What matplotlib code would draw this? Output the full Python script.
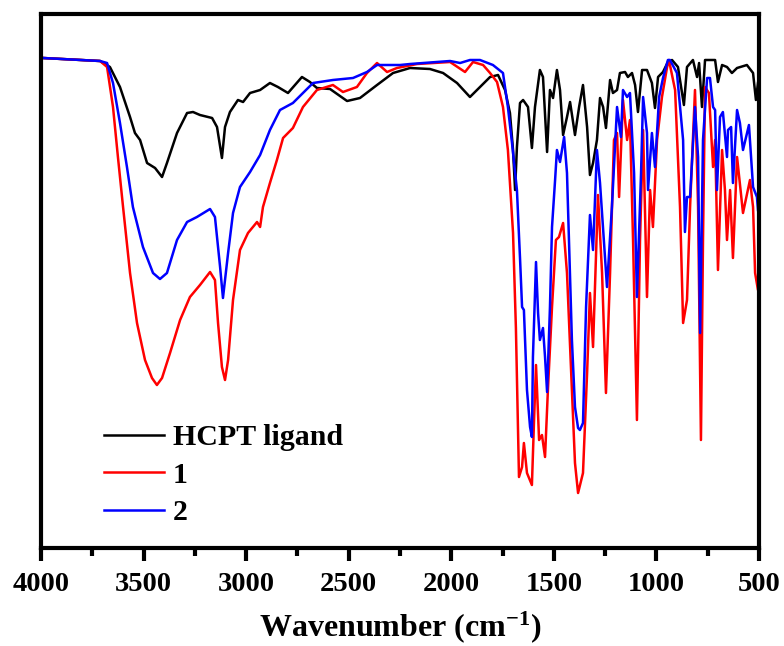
import matplotlib
matplotlib.use('Agg')
import matplotlib.pyplot as plt
from matplotlib.ticker import MultipleLocator

plt.rcParams['font.family'] = ['Liberation Serif', 'DejaVu Serif']
plt.rcParams['font.weight'] = 'bold'
plt.rcParams['mathtext.fontset'] = 'custom'
plt.rcParams['mathtext.rm'] = 'Liberation Serif:bold'
plt.rcParams['mathtext.bf'] = 'Liberation Serif:bold'
plt.rcParams['mathtext.default'] = 'bf'

# HCPT ligand
wn_ligand = [3990, 3712, 3664, 3615, 3566, 3542, 3517, 3483, 3444, 3410,
             3386, 3337, 3288, 3259, 3225, 3166, 3142, 3118, 3103, 3079,
             3040, 3015, 2981, 2932, 2884, 2845, 2796, 2728, 2689, 2655,
             2591, 2508, 2445, 2362, 2284, 2201, 2104, 2040, 1972, 1909,
             1860, 1811, 1772, 1738, 1714, 1699, 1689, 1680, 1665, 1650,
             1626, 1607, 1592, 1568, 1553, 1533, 1519, 1504, 1485, 1470,
             1455, 1436, 1421, 1397, 1377, 1358, 1338, 1324, 1309, 1290,
             1275, 1260, 1246, 1226, 1212, 1192, 1178, 1153, 1139, 1119,
             1104, 1090, 1070, 1046, 1022, 1007, 992, 968, 944, 924,
             895, 866, 851, 822, 802, 792, 778, 763, 714, 700,
             680, 656, 632, 607, 559, 529, 515, 505]
t_ligand = [490, 487, 481, 461, 431, 415, 408, 385, 380, 371,
            385, 415, 435, 436, 433, 430, 421, 390, 421, 436,
            448, 446, 455, 458, 465, 461, 455, 471, 466, 460,
            459, 447, 450, 463, 475, 480, 479, 475, 465, 451,
            461, 471, 473, 458, 435, 398, 358, 401, 445, 448,
            441, 400, 441, 478, 471, 396, 458, 450, 478, 458,
            413, 431, 446, 413, 441, 463, 421, 373, 385, 408,
            450, 441, 420, 468, 455, 458, 475, 476, 471, 475,
            463, 436, 478, 478, 465, 440, 471, 476, 486, 488,
            481, 443, 481, 488, 471, 485, 441, 488, 488, 466,
            483, 481, 475, 480, 483, 475, 448, 465]

# complex 1
wn_1 = [3990, 3712, 3678, 3649, 3625, 3600, 3566, 3532, 3493, 3459,
        3435, 3410, 3371, 3322, 3274, 3225, 3176, 3152, 3137, 3118,
        3103, 3088, 3064, 3030, 2991, 2947, 2932, 2918, 2884, 2850,
        2820, 2772, 2723, 2655, 2577, 2528, 2460, 2411, 2362, 2313,
        2265, 2167, 2006, 1933, 1894, 1845, 1811, 1777, 1748, 1724,
        1699, 1685, 1670, 1655, 1646, 1631, 1607, 1597, 1587, 1572,
        1558, 1543, 1529, 1509, 1490, 1475, 1455, 1436, 1412, 1397,
        1382, 1358, 1338, 1324, 1309, 1285, 1265, 1246, 1226, 1207,
        1192, 1182, 1163, 1143, 1129, 1114, 1095, 1080, 1065, 1046,
        1031, 1017, 997, 973, 948, 939, 909, 885, 870, 851,
        836, 812, 797, 783, 773, 763, 744, 724, 714, 700,
        680, 666, 656, 641, 627, 607, 578, 544, 529, 519,
        505, 500]
t_1 = [490, 487, 481, 441, 391, 341, 275, 225, 188, 170,
       163, 170, 195, 228, 251, 263, 276, 268, 225, 181,
       168, 188, 248, 298, 315, 326, 321, 341, 365, 388,
       410, 420, 441, 458, 463, 456, 461, 475, 485, 476,
       480, 484, 486, 476, 486, 483, 475, 466, 441, 398,
       315, 220, 71, 81, 105, 75, 63, 125, 183, 108,
       113, 91, 158, 241, 308, 311, 325, 275, 158, 85,
       55, 75, 175, 255, 201, 353, 275, 155, 275, 408,
       415, 351, 448, 408, 428, 308, 128, 308, 418, 251,
       358, 321, 408, 451, 481, 488, 458, 341, 225, 248,
       341, 458, 341, 108, 308, 461, 455, 381, 408, 278,
       398, 358, 308, 358, 290, 391, 335, 368, 341, 275,
       258, 281]

# complex 2
wn_2 = [3990, 3712, 3678, 3649, 3615, 3581, 3552, 3503, 3454, 3420,
        3386, 3337, 3288, 3240, 3176, 3152, 3127, 3113, 3088, 3064,
        3030, 2981, 2932, 2884, 2835, 2772, 2674, 2577, 2479, 2411,
        2362, 2250, 2201, 2006, 1957, 1909, 1860, 1797, 1748, 1724,
        1704, 1680, 1665, 1655, 1646, 1631, 1616, 1607, 1602, 1587,
        1577, 1568, 1553, 1543, 1533, 1519, 1509, 1494, 1485, 1470,
        1450, 1436, 1412, 1397, 1382, 1373, 1358, 1343, 1324, 1309,
        1290, 1275, 1241, 1217, 1192, 1173, 1163, 1143, 1129, 1109,
        1095, 1075, 1065, 1046, 1041, 1022, 1007, 987, 968, 944,
        934, 900, 870, 861, 851, 836, 812, 797, 787, 773,
        753, 739, 724, 714, 705, 690, 676, 656, 651, 636,
        627, 607, 593, 578, 549, 529, 510, 505]
t_2 = [490, 487, 485, 465, 425, 381, 341, 301, 275, 269,
       275, 308, 326, 331, 339, 331, 281, 250, 295, 335,
       361, 376, 393, 418, 438, 445, 465, 468, 470, 476,
       483, 483, 484, 487, 485, 488, 488, 483, 475, 441,
       405, 358, 290, 241, 238, 158, 121, 111, 191, 286,
       235, 208, 220, 191, 156, 241, 321, 368, 398, 386,
       411, 375, 208, 141, 120, 118, 125, 241, 333, 298,
       398, 365, 261, 341, 441, 411, 458, 451, 455, 375,
       251, 375, 451, 415, 358, 415, 381, 451, 470, 488,
       488, 475, 408, 316, 351, 351, 441, 391, 215, 408,
       470, 470, 441, 438, 358, 431, 436, 391, 418, 421,
       365, 438, 425, 398, 423, 361, 351, 338]

fig = plt.figure(figsize=(7.84, 6.46), dpi=100)
ax = fig.add_axes([41 / 784, 1 - 548 / 646, 718 / 784, 534 / 646])

ax.plot(wn_ligand, t_ligand, color='black', lw=1.8, label='HCPT ligand')
ax.plot(wn_1, t_1, color='#ff0000', lw=1.8, label='1')
ax.plot(wn_2, t_2, color='#0000ff', lw=1.8, label='2')

ax.set_xlim(4000, 500)
ax.set_ylim(0, 534)
ax.set_yticks([])
ax.xaxis.set_major_locator(MultipleLocator(500))
ax.xaxis.set_minor_locator(MultipleLocator(250))
ax.tick_params(axis='x', which='major', direction='out', length=9, width=3,
               labelsize=20.5, pad=8)
ax.tick_params(axis='x', which='minor', direction='out', length=6, width=3)
for s in ax.spines.values():
    s.set_linewidth(3)

ax.set_xlabel('Wavenumber (cm$^{-1}$)', fontsize=23, fontweight='bold', labelpad=9)

ax.legend(loc='upper left', bbox_to_anchor=(0.088, 0.232), frameon=False,
          prop={'size': 21.5, 'weight': 'bold'}, handlelength=2.0,
          handletextpad=0.3, labelspacing=0.35, borderpad=0, borderaxespad=0)

plt.savefig('out.png', dpi=100)
